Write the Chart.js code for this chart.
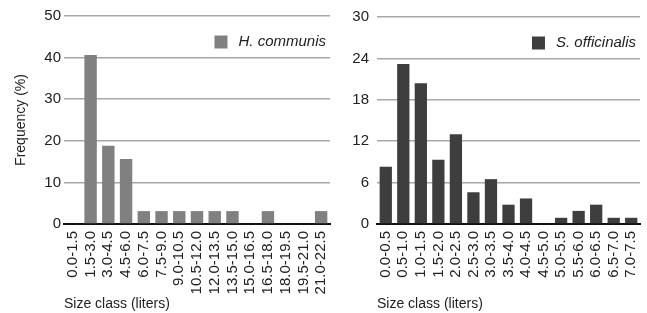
<!DOCTYPE html>
<html>
<head>
<meta charset="utf-8">
<script src="https://cdn.jsdelivr.net/npm/chart.js@4.4.1/dist/chart.umd.min.js"></script>
<style>
  body { margin: 0; background: #fff; }
  canvas { position: absolute; top: 0; }
  #leftChart { left: 0; }
  #rightChart { left: 335px; }
</style>
</head>
<body>
<canvas id="leftChart" width="335" height="313"></canvas>
<canvas id="rightChart" width="312" height="313"></canvas>
<script>
// size classes (liters)
const hClasses = ['0.0-1.5', '1.5-3.0', '3.0-4.5', '4.5-6.0', '6.0-7.5', '7.5-9.0', '9.0-10.5',
  '10.5-12.0', '12.0-13.5', '13.5-15.0', '15.0-16.5', '16.5-18.0', '18.0-19.5', '19.5-21.0', '21.0-22.5'];
const sClasses = ['0.0-0.5', '0.5-1.0', '1.0-1.5', '1.5-2.0', '2.0-2.5', '2.5-3.0', '3.0-3.5',
  '3.5-4.0', '4.0-4.5', '4.5-5.0', '5.0-5.5', '5.5-6.0', '6.0-6.5', '6.5-7.0', '7.0-7.5'];

// frequency (%)
const hCommunis = [0, 40.6, 18.8, 15.6, 3.1, 3.1, 3.1, 3.1, 3.1, 3.1, 0, 3.1, 0, 0, 3.1];
const sOfficinalis = [8.3, 23.2, 20.4, 9.3, 13.0, 4.6, 6.5, 2.8, 3.7, 0, 0.9, 1.9, 2.8, 0.9, 0.9];

const FONT = '"Liberation Sans", Arial, Helvetica, sans-serif';
Chart.defaults.font.family = FONT;
Chart.defaults.color = '#222';

// legend box sits inside the plot, top right
const boxLegend = {
  id: 'boxLegend',
  afterDraw(chart) {
    const ds = chart.data.datasets[0];
    const ctx = chart.ctx;
    const a = chart.chartArea;
    ctx.save();
    ctx.font = 'italic 15px ' + FONT;
    const w = ctx.measureText(ds.label).width;
    const tx = a.right - 4 - w;
    const cy = a.top + 26;
    ctx.fillStyle = ds.backgroundColor;
    ctx.fillRect(tx - 24, cy - 6.5, 13, 13);
    ctx.fillStyle = '#222';
    ctx.textBaseline = 'middle';
    ctx.fillText(ds.label, tx, cy);
    ctx.restore();
  }
};

const histChart = (id, labels, data, name, color, yMax, yStep, opts) => {
  new Chart(document.getElementById(id), {
    type: 'bar',
    data: {
      labels: labels,
      datasets: [{
        label: name,
        data: data,
        backgroundColor: color,
        barPercentage: 0.7,
        categoryPercentage: 1
      }]
    },
    options: {
      responsive: false,
      animation: false,
      devicePixelRatio: 1,
      layout: { padding: { top: 16, right: opts.padRight, bottom: 0, left: 0 } },
      plugins: {
        tooltip: { enabled: false },
        legend: { display: false }
      },
      scales: {
        x: {
          grid: { display: false, drawTicks: false },
          border: { display: true, color: '#111', width: 2 },
          ticks: { autoSkip: false, maxRotation: 90, minRotation: 90, padding: 7, font: { size: 15 } },
          title: { display: true, text: 'Size class (liters)', align: 'start', padding: { top: 0, bottom: 0 }, font: { size: 14 } },
          afterFit: s => { s.height = 89; s.paddingLeft = 0; s.paddingRight = 0; }
        },
        y: {
          min: 0,
          max: yMax,
          grid: { color: '#a8a8a8', lineWidth: 1.5, drawTicks: false },
          border: { display: false },
          ticks: { stepSize: yStep, padding: opts.tickPad, font: { size: 15 } },
          title: { display: opts.yTitle, text: 'Frequency (%)', padding: { top: 13, bottom: 0 }, font: { size: 14 } },
          afterFit: s => { s.width = opts.yWidth; }
        }
      }
    },
    plugins: [boxLegend]
  });
};

histChart('leftChart', hClasses, hCommunis, 'H. communis', '#808080', 50, 10,
  { padRight: 5, yWidth: 64, tickPad: 3, yTitle: true });
histChart('rightChart', sClasses, sOfficinalis, 'S. officinalis', '#3e3e3e', 30, 6,
  { padRight: 7, yWidth: 42, tickPad: 8, yTitle: false });
</script>
</body>
</html>
